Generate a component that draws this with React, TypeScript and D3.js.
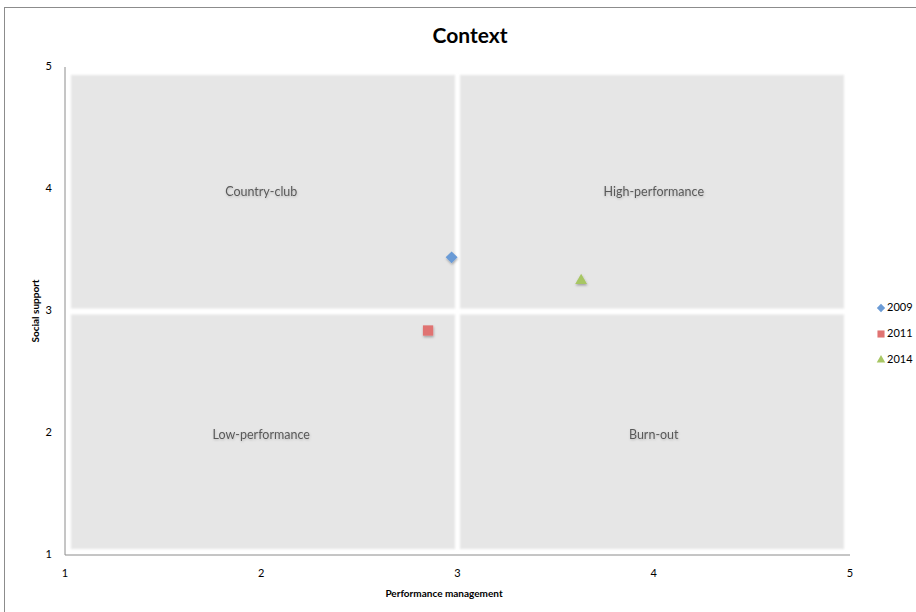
import React from "react";
import * as d3 from "d3";

const seriesNames = ["2009", "2011", "2014"];
const xValues = [2.97, 2.85, 3.63];
const yValues = [3.44, 2.84, 3.25];
const seriesColors = ["#6b9bd6", "#e07372", "#a7c663"];
const seriesShapes = ["diamond", "square", "triangle"];

const xTicks = [1, 2, 3, 4, 5];
const yTicks = [1, 2, 3, 4, 5];

const quadrantNames = ["Country-club", "High-performance", "Low-performance", "Burn-out"];
const quadrantX = [[1, 3], [3, 5], [1, 3], [3, 5]];
const quadrantY = [[3, 5], [3, 5], [1, 3], [1, 3]];
const labelX = [2, 4, 2, 4];
const labelY = [3.97, 3.97, 1.98, 1.98];

const W = 916;
const H = 612;
const FONT = "Lato, 'Open Sans', 'Liberation Sans', sans-serif";

export default function App() {
  const x = d3.scaleLinear().domain([1, 5]).range([65, 850]);
  const y = d3.scaleLinear().domain([1, 5]).range([555, 67]);

  const symbolFor = (shape: string) => {
    if (shape === "diamond") return d3.symbol().type(d3.symbolDiamond2).size(90)();
    if (shape === "square") return d3.symbol().type(d3.symbolSquare2).size(135)();
    return d3.symbol().type(d3.symbolTriangle2).size(100)();
  };
  const legendSymbol = (shape: string) => {
    if (shape === "diamond") return d3.symbol().type(d3.symbolDiamond2).size(44)();
    if (shape === "square") return d3.symbol().type(d3.symbolSquare2).size(64)();
    return d3.symbol().type(d3.symbolTriangle2).size(52)();
  };

  const inset = 6;
  const gap = 2.5;

  return (
    <svg width={W} height={H} style={{ position: "absolute", left: 0, top: 0 }} fontFamily={FONT}>
      <defs>
        <filter id="soft" x="-5%" y="-5%" width="110%" height="110%">
          <feGaussianBlur stdDeviation="1.2" />
        </filter>
        <filter id="shadow" x="-50%" y="-50%" width="200%" height="200%">
          <feDropShadow dx="0.5" dy="1.5" stdDeviation="1" floodColor="#000" floodOpacity="0.3" />
        </filter>
        <filter id="tshadow" x="-10%" y="-50%" width="120%" height="200%">
          <feDropShadow dx="0.5" dy="1" stdDeviation="0.8" floodColor="#000" floodOpacity="0.2" />
        </filter>
      </defs>
      <rect x={0} y={0} width={W} height={H} fill="#fff" />
      <rect x={4.5} y={7.5} width={W + 20} height={H + 20} fill="#fff" stroke="#8c8c8c" strokeWidth={1} />

      <text x={470} y={43} textAnchor="middle" fontSize={21} fontWeight="bold" fill="#000">
        Context
      </text>

      {quadrantNames.map((name, i) => {
        const x0 = x(quadrantX[i][0]) + (quadrantX[i][0] === 1 ? inset : gap);
        const x1 = x(quadrantX[i][1]) - (quadrantX[i][1] === 5 ? inset : gap);
        const yTop = y(quadrantY[i][1]) + (quadrantY[i][1] === 5 ? 8 : gap + 1);
        const yBot = y(quadrantY[i][0]) - (quadrantY[i][0] === 1 ? inset : gap);
        return (
          <g key={name}>
            <rect x={x0} y={yTop} width={x1 - x0} height={yBot - yTop} fill="#e6e6e6" filter="url(#soft)" />
            <text x={x(labelX[i])} y={y(labelY[i])} textAnchor="middle" dominantBaseline="middle" fontSize={12.5} fill="#595959" filter="url(#tshadow)">
              {name}
            </text>
          </g>
        );
      })}

      <line x1={65} x2={65} y1={y(5)} y2={y(1)} stroke="#8c8c8c" strokeWidth={1} />
      <line x1={65} x2={x(5)} y1={555} y2={555} stroke="#8c8c8c" strokeWidth={1} />

      {yTicks.map((t) => (
        <text key={"y" + t} x={52} y={y(t)} textAnchor="end" dominantBaseline="middle" fontSize={11} fill="#000">
          {t}
        </text>
      ))}
      {xTicks.map((t) => (
        <text key={"x" + t} x={x(t)} y={577} textAnchor="middle" fontSize={11} fill="#000">
          {t}
        </text>
      ))}

      <text x={444} y={597} textAnchor="middle" fontSize={10} fontWeight="bold" fill="#000">
        Performance management
      </text>
      <text transform={`translate(39, 311) rotate(-90)`} textAnchor="middle" fontSize={10} fontWeight="bold" fill="#000">
        Social support
      </text>

      {seriesNames.map((s, i) => (
        <path
          key={"p" + s}
          d={symbolFor(seriesShapes[i]) as string}
          transform={`translate(${x(xValues[i])}, ${y(yValues[i])})`}
          fill={seriesColors[i]}
          filter="url(#shadow)"
        />
      ))}

      {seriesNames.map((s, i) => (
        <g key={"l" + s} transform={`translate(881, ${308 + i * 26})`}>
          <path d={legendSymbol(seriesShapes[i]) as string} fill={seriesColors[i]} />
          <text x={6} y={0} dominantBaseline="middle" fontSize={11} fill="#000">
            {s}
          </text>
        </g>
      ))}
    </svg>
  );
}
